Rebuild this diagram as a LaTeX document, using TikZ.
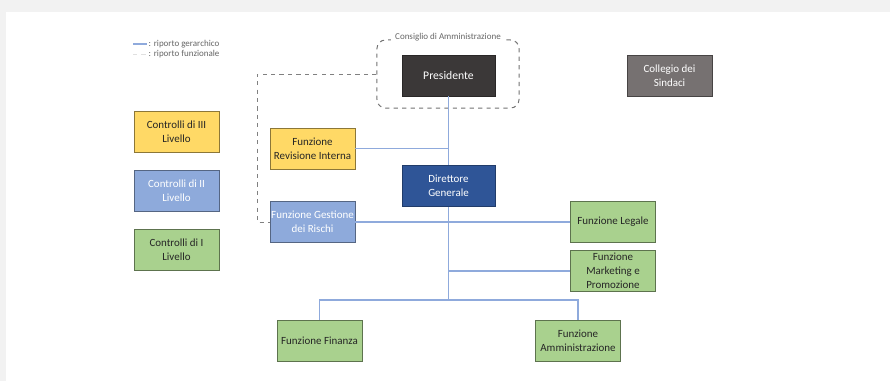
\documentclass[tikz,border=0pt]{standalone}
\usepackage{fontspec}
\setmainfont{Carlito}
\usetikzlibrary{positioning}

\definecolor{giallo}{HTML}{FFD966}
\definecolor{azzurro}{HTML}{8EAADB}
\definecolor{verde}{HTML}{A9D18E}
\definecolor{scuro}{HTML}{3B3838}
\definecolor{grigio}{HTML}{767171}
\definecolor{blu}{HTML}{2F5597}
\definecolor{linea}{HTML}{8FAADC}
\definecolor{sfondo}{HTML}{F2F2F2}

\begin{document}
\begin{tikzpicture}[x=0.025cm,y=-0.025cm,
    box/.style={draw, rectangle, minimum width=2.125cm, minimum height=1.025cm, align=center,
                inner sep=1pt, font=\fontsize{7.8}{9.9}\selectfont, text=black!85},
    gialla/.style={box, fill=giallo, draw=giallo!55!black},
    azzurra/.style={box, fill=azzurro, draw=azzurro!60!black, text=white},
    verdebox/.style={box, fill=verde, draw=verde!55!black},
    link/.style={draw=linea, line width=0.75pt},
    func/.style={draw=black!50, dashed, line width=0.6pt},
    legend/.style={font=\fontsize{6.4}{7}\selectfont, text=black!60, inner sep=1pt}]

    % sfondo
    \fill[sfondo] (0,0) rectangle (890,381);
    \fill[white] (6,12) rectangle (890,381);

    % legenda
    \coordinate (leg1) at (133,44);
    \coordinate (leg2) at (133,54);
    \node (legtxt1) [legend, anchor=west] at (147,44) {: riporto gerarchico};
    \node (legtxt2) [legend, anchor=west] at (147,54) {: riporto funzionale};
    \draw[link] (leg1) -- (legtxt1.west);
    \draw[draw=black!12, dashed, line width=0.6pt] (leg2) -- (legtxt2.west);

    % vertice
    \node (consiglio) [draw=black!55, dashed, line width=0.7pt, rounded corners=6pt,
        minimum width=3.55cm, minimum height=1.7cm] at (448,74) {};
    \node (conslabel) [legend, fill=white, inner xsep=3pt] at (448,37) {Consiglio di Amministrazione};
    \node (pres) [box, fill=scuro, draw=scuro!70!black, text=white, minimum width=2.325cm,
        font=\fontsize{8.3}{10}\selectfont] at (448.5,75.5) {Presidente};
    \node (collegio) [box, fill=grigio, draw=grigio!60!black, text=white] at (669.5,75.5) {Collegio dei\\Sindaci};
    \node (dirgen) [box, fill=blu, draw=blu!70!black, text=white, minimum width=2.325cm] at (448.5,186) {Direttore\\Generale};

    % livelli di controllo
    \node (ctrl3) [gialla] at (176.5,131.5) {Controlli di III\\Livello};
    \node (ctrl2) [azzurra] at (176.5,191) {Controlli di II\\Livello};
    \node (ctrl1) [verdebox] at (176.5,250) {Controlli di I\\Livello};

    % funzioni
    \node (revis) [gialla] at (312.5,148.5) {Funzione\\Revisione Interna};
    \node (rischi) [azzurra] at (312.5,222) {Funzione Gestione\\dei Rischi};
    \node (legale) [verdebox] at (613,222) {Funzione Legale};
    \node (mktg) [verdebox] at (613,271) {Funzione\\Marketing e\\Promozione};
    \node (finanza) [verdebox] at (319.5,340.5) {Funzione Finanza};
    \node (amminis) [verdebox] at (578,340.5) {Funzione\\Amministrazione};

    % riporti gerarchici
    \coordinate (split) at (448.5,300);
    \draw[link] (pres) -- (dirgen);
    \draw[link] (revis.east) -- (revis.east -| pres);
    \draw[link] (rischi.east) -- (legale.west);
    \draw[link] (dirgen.south) -- (split);
    \draw[link] (mktg.west) -- (mktg.west -| split);
    \draw[link] (finanza.north) |- (split) -| (amminis.north);

    % riporto funzionale
    \coordinate (bend) at (257,74);
    \draw[func] (consiglio.west) -- (bend) |- (rischi.west);
\end{tikzpicture}
\end{document}
